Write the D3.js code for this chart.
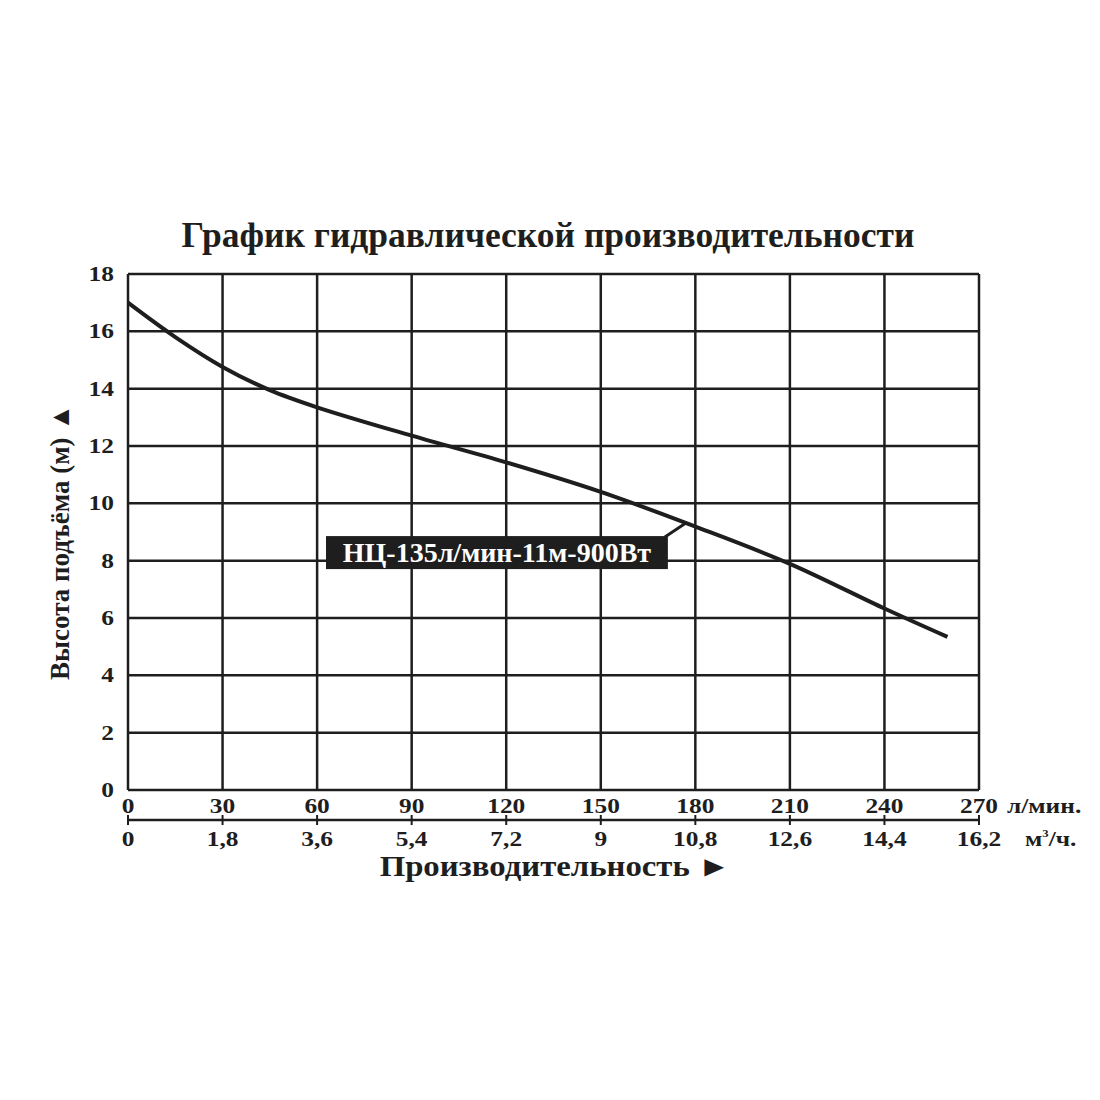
<!DOCTYPE html>
<html>
<head>
<meta charset="utf-8">
<script src="https://cdn.jsdelivr.net/npm/d3@7"></script>
<style>
  body { margin: 0; background: #fff; }
</style>
</head>
<body>
<div id="wrapper"></div>
<script>
// data
const flowLpm = [0, 15, 30, 45, 60, 90, 120, 150, 180, 210, 240, 260]
const headM = [17.0, 15.8, 14.76, 13.95, 13.35, 12.36, 11.43, 10.4, 9.19, 7.89, 6.33, 5.34]

const xTicks = [0, 30, 60, 90, 120, 150, 180, 210, 240, 270]
const xTicksM3 = ["0", "1,8", "3,6", "5,4", "7,2", "9", "10,8", "12,6", "14,4", "16,2"]
const yTicks = [0, 2, 4, 6, 8, 10, 12, 14, 16, 18]

const title = "График гидравлической производительности"
const yLabel = "Высота подъёма (м) ▲"
const xLabel = "Производительность ►"
const seriesName = "НЦ-135л/мин-11м-900Вт"
const labelAt = 177

const width = 1100
const height = 1100
const margin = { top: 274, left: 128, right: 121, bottom: 310 }
const boundedWidth = width - margin.left - margin.right
const boundedHeight = height - margin.top - margin.bottom
const ink = "#1e1e1e"
const font = "'Liberation Serif', 'Times New Roman', serif"
const tickSize = 20
const tickStretch = 1.27

const svg = d3.select("#wrapper")
  .append("svg")
  .attr("width", width)
  .attr("height", height)
  .style("font-family", font)
  .style("font-weight", "bold")

svg.append("text")
  .attr("x", 548)
  .attr("y", 247)
  .attr("text-anchor", "middle")
  .attr("font-size", 35.5)
  .attr("fill", ink)
  .text(title)

const bounds = svg.append("g")
  .attr("transform", `translate(${margin.left},${margin.top})`)

const xScale = d3.scaleLinear().domain([0, 270]).range([0, boundedWidth])
const yScale = d3.scaleLinear().domain([0, 18]).range([boundedHeight, 0])

// the tick type in the picture is wide, so stretch it sideways
const wide = (x, y, k = tickStretch) => `translate(${x},${y}) scale(${k},1)`

// grid
bounds.append("g")
  .selectAll("line")
  .data(xTicks)
  .join("line")
  .attr("x1", d => xScale(d))
  .attr("x2", d => xScale(d))
  .attr("y1", 0)
  .attr("y2", boundedHeight)
  .attr("stroke", ink)
  .attr("stroke-width", 2.5)

bounds.append("g")
  .selectAll("line")
  .data(yTicks)
  .join("line")
  .attr("x1", 0)
  .attr("x2", boundedWidth)
  .attr("y1", d => yScale(d))
  .attr("y2", d => yScale(d))
  .attr("stroke", ink)
  .attr("stroke-width", 2.5)

// y tick labels
bounds.append("g")
  .selectAll("text")
  .data(yTicks)
  .join("text")
  .attr("transform", d => wide(-14, yScale(d) + 7))
  .attr("text-anchor", "end")
  .attr("font-size", tickSize)
  .attr("fill", ink)
  .text(d => d)

// first x row (l/min)
bounds.append("g")
  .selectAll("text")
  .data(xTicks)
  .join("text")
  .attr("transform", d => wide(xScale(d), boundedHeight + 23))
  .attr("text-anchor", "middle")
  .attr("font-size", tickSize)
  .attr("fill", ink)
  .text(d => d)

bounds.append("text")
  .attr("transform", wide(xScale(270) + 28, boundedHeight + 23))
  .attr("font-size", tickSize)
  .attr("fill", ink)
  .text("л/мин.")

// second x axis (m3/h)
const axis2Y = boundedHeight + 30
bounds.append("line")
  .attr("x1", 0)
  .attr("x2", boundedWidth)
  .attr("y1", axis2Y)
  .attr("y2", axis2Y)
  .attr("stroke", ink)
  .attr("stroke-width", 2.5)

bounds.append("g")
  .selectAll("line")
  .data(xTicks)
  .join("line")
  .attr("x1", d => xScale(d))
  .attr("x2", d => xScale(d))
  .attr("y1", axis2Y - 5)
  .attr("y2", axis2Y + 5)
  .attr("stroke", ink)
  .attr("stroke-width", 2)

bounds.append("g")
  .selectAll("text")
  .data(xTicks)
  .join("text")
  .attr("transform", d => wide(xScale(d), axis2Y + 26))
  .attr("text-anchor", "middle")
  .attr("font-size", tickSize)
  .attr("fill", ink)
  .text((d, i) => xTicksM3[i])

const unit2 = bounds.append("text")
  .attr("transform", wide(xScale(270) + 46, axis2Y + 26))
  .attr("font-size", tickSize)
  .attr("fill", ink)
unit2.append("tspan").text("м")
unit2.append("tspan").attr("font-size", 10).attr("dy", -9).text("3")
unit2.append("tspan").attr("dy", 9).text("/ч.")

// axis titles
svg.append("text")
  .attr("transform", wide(555, 876, 1.15))
  .attr("text-anchor", "middle")
  .attr("font-size", 28.5)
  .attr("fill", ink)
  .text(xLabel)

svg.append("text")
  .attr("transform", "translate(69,542) rotate(-90)")
  .attr("text-anchor", "middle")
  .attr("font-size", 27)
  .attr("fill", ink)
  .text(yLabel)

// curve
const points = flowLpm.map((d, i) => [d, headM[i]])
const line = d3.line()
  .x(d => xScale(d[0]))
  .y(d => yScale(d[1]))
  .curve(d3.curveCatmullRom)

bounds.append("path")
  .datum(points)
  .attr("d", line)
  .attr("fill", "none")
  .attr("stroke", ink)
  .attr("stroke-width", 4)

// series label box with leader
const headAt = d3.scaleLinear().domain(flowLpm).range(headM)
const tipX = xScale(labelAt)
const tipY = yScale(headAt(labelAt))
const boxRight = tipX - 18
const boxTop = tipY + 13
const boxLeft = 198
const boxH = 33

bounds.append("line")
  .attr("x1", boxRight - 3)
  .attr("y1", boxTop + 1)
  .attr("x2", tipX)
  .attr("y2", tipY)
  .attr("stroke", ink)
  .attr("stroke-width", 3)

bounds.append("rect")
  .attr("x", boxLeft)
  .attr("y", boxTop)
  .attr("width", boxRight - boxLeft)
  .attr("height", boxH)
  .attr("fill", ink)

bounds.append("text")
  .attr("x", (boxLeft + boxRight) / 2)
  .attr("y", boxTop + 26)
  .attr("text-anchor", "middle")
  .attr("font-size", 28)
  .attr("fill", "#fff")
  .text(seriesName)
</script>
</body>
</html>
